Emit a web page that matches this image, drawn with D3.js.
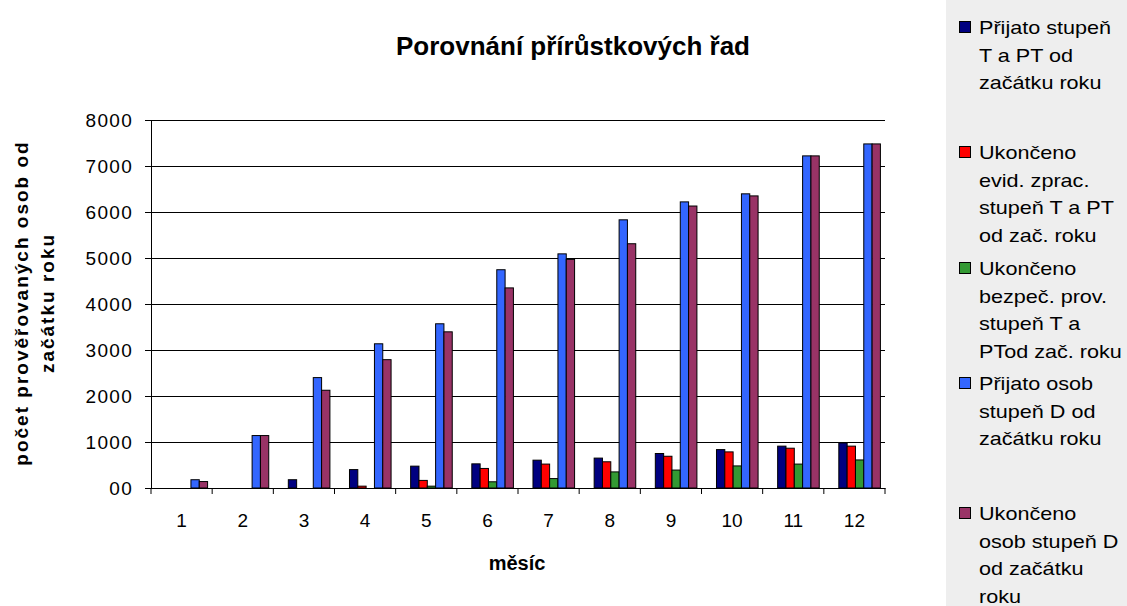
<!DOCTYPE html>
<html>
<head>
<meta charset="utf-8">
<script src="https://cdn.jsdelivr.net/npm/d3@7"></script>
<style>
  body { margin: 0; background: #fff; }
  text { font-family: "Liberation Sans", Arial, sans-serif; }
</style>
</head>
<body>
<div id="main"></div>
<script>
// data
var months = ["1", "2", "3", "4", "5", "6", "7", "8", "9", "10", "11", "12"];
var prijatoTPT   = [0, 0, 180, 400, 475, 525, 605, 650, 750, 835, 910, 980];
var ukoncenoEvid = [0, 0, 0, 40, 165, 425, 520, 570, 690, 785, 865, 910];
var ukoncenoBezp = [0, 0, 0, 0, 40, 135, 205, 350, 390, 480, 520, 610];
var prijatoD     = [180, 1140, 2400, 3135, 3570, 4745, 5090, 5830, 6220, 6395, 7220, 7480];
var ukoncenoD    = [140, 1140, 2125, 2790, 3395, 4350, 4970, 5310, 6130, 6350, 7220, 7480];
var yTicks = [0, 1000, 2000, 3000, 4000, 5000, 6000, 7000, 8000];
var yTickLabels = ["00", "1000", "2000", "3000", "4000", "5000", "6000", "7000", "8000"];

var seriesNames = [
  ["Přijato stupeň", "T a PT od", "začátku roku"],
  ["Ukončeno", "evid. zprac.", "stupeň T a PT", "od zač. roku"],
  ["Ukončeno", "bezpeč. prov.", "stupeň T a", "PTod zač. roku"],
  ["Přijato osob", "stupeň D od", "začátku roku"],
  ["Ukončeno", "osob stupeň D", "od začátku", "roku"]
];
var seriesValues = [prijatoTPT, ukoncenoEvid, ukoncenoBezp, prijatoD, ukoncenoD];
var colors = ["#000080", "#ff0000", "#339933", "#3366ff", "#993366"];

var W = 1127, H = 606;
var margin = {top: 120, left: 151},
    width = 885 - margin.left,
    height = 488 - margin.top;

var svg = d3.select("#main")
  .append("svg")
    .attr("width", W)
    .attr("height", H);

// legend panel
svg.append("rect")
  .attr("x", 946).attr("y", 0)
  .attr("width", W - 946).attr("height", H)
  .attr("fill", "#eeeeee");

// title
svg.append("text")
  .attr("x", 573)
  .attr("y", 55)
  .attr("text-anchor", "middle")
  .style("font-family", "'Liberation Sans Narrow', 'Arial Narrow', sans-serif")
  .style("font-weight", "bold")
  .style("font-size", "26px")
  .text("Porovnání přírůstkových řad");

var g = svg.append("g")
  .attr("transform", "translate(" + margin.left + "," + margin.top + ")");

var xScale = d3.scaleBand()
  .domain(months)
  .range([0, width])
  .padding(0);

var keys = d3.range(seriesValues.length);
var xSub = d3.scaleBand()
  .domain(keys)
  .range([xScale.bandwidth() * 0.245, xScale.bandwidth() * 0.925]);

var yScale = d3.scaleLinear()
  .domain([0, 8000])
  .range([height, 0]);

// gridlines
g.selectAll(".grid")
  .data(yTicks)
  .enter()
  .append("line")
    .attr("x1", 0)
    .attr("x2", width)
    .attr("y1", function(d) { return Math.round(yScale(d)) + 0.5; })
    .attr("y2", function(d) { return Math.round(yScale(d)) + 0.5; })
    .style("stroke", "#000");

// bars
var groups = g.selectAll(".month")
  .data(months)
  .enter()
  .append("g")
    .attr("transform", function(d) { return "translate(" + xScale(d) + ",0)"; });

groups.selectAll("rect")
  .data(function(d, i) { return keys.map(function(k) { return {k: k, v: seriesValues[k][i]}; }); })
  .enter()
  .filter(function(d) { return d.v > 0; })
  .append("rect")
    .attr("x", function(d) { return xSub(d.k); })
    .attr("y", function(d) { return yScale(d.v); })
    .attr("width", xSub.bandwidth())
    .attr("height", function(d) { return height - yScale(d.v); })
    .attr("fill", function(d) { return colors[d.k]; })
    .attr("stroke", "#000")
    .attr("stroke-width", 1);

// Y axis
var yAxis = g.append("g")
  .call(d3.axisLeft(yScale)
    .tickValues(yTicks)
    .tickSize(6)
    .tickPadding(12)
    .tickFormat(function(d, i) { return yTickLabels[i]; }));
yAxis.selectAll("text")
  .style("font-size", "19px")
  .style("letter-spacing", "1.3px")
  .style("fill", "#000");
yAxis.selectAll("line, path").style("stroke", "#000");

// X axis, ticks on the category boundaries
var xAxis = g.append("g")
  .attr("transform", "translate(0," + height + ")")
  .call(d3.axisBottom(xScale).tickSize(0).tickPadding(26));
xAxis.select(".domain").style("stroke", "#000");
xAxis.selectAll("text")
  .style("font-size", "19px")
  .style("fill", "#000");
xAxis.selectAll(".sep")
  .data(months.concat(["end"]))
  .enter()
  .append("line")
    .attr("x1", function(d, i) { return i * xScale.step(); })
    .attr("x2", function(d, i) { return i * xScale.step(); })
    .attr("y1", 0)
    .attr("y2", 6)
    .style("stroke", "#000");

// X axis title
svg.append("text")
  .attr("x", 517)
  .attr("y", 570)
  .attr("text-anchor", "middle")
  .style("font-weight", "bold")
  .style("font-size", "20px")
  .text("měsíc");

// Y axis title
var yTitle = svg.append("text")
  .attr("transform", "translate(21,303) rotate(-90)")
  .attr("text-anchor", "middle")
  .style("font-weight", "bold")
  .style("font-size", "19px")
  .style("letter-spacing", "2px");
yTitle.append("tspan").attr("x", 0).attr("dy", "0.35em").text("počet prověřovaných osob od");
yTitle.append("tspan").attr("x", 0).attr("dy", "1.4em").text("začátku roku");

// legend
var legendTop = [28, 153, 269, 384, 514];
var lineH = 27.5;
var leg = svg.selectAll(".legend")
  .data(seriesNames)
  .enter()
  .append("g")
    .attr("transform", function(d, i) { return "translate(0," + legendTop[i] + ")"; });

leg.append("rect")
  .attr("x", 959.5).attr("y", -6.5)
  .attr("width", 11).attr("height", 11)
  .attr("fill", function(d, i) { return colors[i]; })
  .attr("stroke", "#000");

leg.append("text")
  .attr("transform", "translate(979,0) scale(1.2,1)")
  .style("font-size", "18px")
  .selectAll("tspan")
  .data(function(d) { return d; })
  .enter()
  .append("tspan")
    .attr("x", 0)
    .attr("y", function(d, i) { return i * lineH; })
    .attr("dy", "0.35em")
    .text(function(d) { return d; });
</script>
</body>
</html>
